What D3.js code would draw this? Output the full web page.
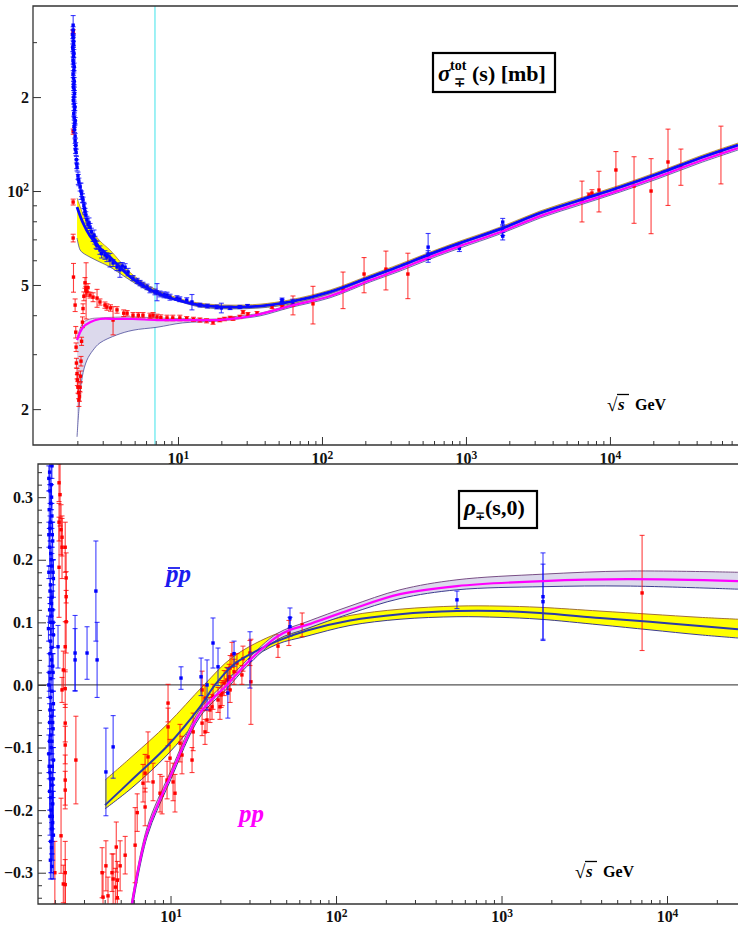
<!DOCTYPE html>
<html>
<head>
<meta charset="utf-8">
<script src="https://cdnjs.cloudflare.com/ajax/libs/d3/7.8.5/d3.min.js"></script>
<style>
  body { margin: 0; background: #fff; }
  svg { display: block; }
  svg text { font-family: "Liberation Serif", "Times New Roman", Times, "DejaVu Serif", serif !important; font-weight: bold; }
</style>
</head>
<body>
<svg id="chart" width="738" height="929"></svg>
<script>
// ---------- top panel: total cross section [mb] vs sqrt(s) [GeV] ----------
const topXMajor = [10, 100, 1000, 10000];
const topXLabels = ["10^1", "10^2", "10^3", "10^4"];
const topYMajor = [20, 50, 100, 200];
const topYLabels = ["2", "5", "10^2", "2"];
const topYMinor = [30, 40, 60, 70, 80, 90, 300];
const cyanSqrtS = 6.92;

// pbar-p fit (blue) with yellow band
const sigPbarCenter = [[1.99,88.9],[2.19,79.0],[2.45,71.8],[2.87,65.7],[3.37,61.4],[4.87,52.2],[6.92,47.5],[10,44.7],[14.2,43.1],[23,42.5],[37.1,42.8],[60,44.1],[114,47.5],[216,53.0],[349,57.5],[562,62.8],[906,68.1],[1722,75.5],[3270,85.0],[6200,93.6],[11800,103],[22300,114.2],[42200,127.6],[77500,140.4]];
const sigPbarUpper = [[1.99,95.0],[2.19,84.4],[2.45,76.1],[2.87,69.2],[3.37,64.7],[4.87,53.8],[6.92,48.5],[10,45.4],[14.2,43.7],[23,43.1],[37.1,43.4],[60,44.8],[114,48.2],[216,53.8],[349,58.4],[562,63.7],[906,69.1],[1722,76.6],[3270,86.3],[6200,95.0],[11800,104.5],[22300,115.9],[42200,129.5],[77500,142.5]];
const sigPbarLower = [[1.99,70.7],[2.09,64.7],[2.19,63.3],[2.45,61.4],[2.87,59.2],[3.37,57.1],[4.87,51.1],[6.92,46.8],[10,44.4],[14.2,42.5],[23,41.9],[37.1,42.2],[60,43.4],[114,46.8],[216,52.2],[349,56.7],[562,61.9],[906,67.1],[1722,74.4],[3270,83.7],[6200,92.2],[11800,101.5],[22300,112.5],[42200,125.7],[77500,138.3]];

// pp fit (magenta) with lavender band
const sigPpCenter = [[1.99,33.3],[2.19,36.6],[2.45,38.0],[2.87,38.9],[3.77,38.9],[4.87,38.9],[7.15,38.6],[10.8,38.6],[18.6,38.6],[26.9,39.2],[37.1,40.3],[60,42.8],[114,46.1],[216,51.8],[349,56.2],[562,61.4],[906,66.6],[1722,73.8],[3270,83.1],[6200,91.5],[11800,100.7],[22300,111.7],[42200,124.8],[77500,137.3]];
const sigPpUpper = [[1.99,33.8],[2.19,37.8],[2.45,38.9],[2.87,39.2],[4.87,39.5],[7.15,39.2],[10.8,39.0],[18.6,38.9],[26.9,39.8],[37.1,40.6],[60,43.2],[114,46.8],[216,52.6],[349,57.1],[562,62.3],[906,67.6],[1722,74.9],[3270,84.4],[6200,92.9],[11800,102.2],[22300,113.4],[42200,126.7],[77500,139.4]];
const sigPpLower = [[1.99,16.3],[2.05,19.9],[2.16,25.3],[2.33,28.7],[2.57,30.9],[2.87,32.6],[3.77,34.6],[4.87,35.8],[7.15,36.6],[10.8,37.8],[18.6,38.3],[26.9,39.0],[37.1,39.8],[60,42.3],[114,45.5],[216,51.1],[349,55.4],[562,60.5],[906,65.6],[1722,72.8],[3270,81.9],[6200,90.2],[11800,99.3],[22300,110.1],[42200,123.0],[77500,135.3]];

// measured points [sqrt(s), sigma, error]
const sigPbarPts = [[1.87,340,25],[1.87,328,8],[1.86,318,10],[1.87,310,7],[1.88,302,9],[1.88,295,6],[1.86,288,8],[1.87,283,6],[1.89,276,8],[1.88,270,5],[1.87,262,7],[1.88,256,5],[1.90,250,7],[1.89,244,5],[1.87,237,6],[1.88,230,5],[1.90,225,6],[1.89,220,4],[1.88,215,5],[1.90,211,4],[1.91,205,5],[1.89,200,4],[1.88,195,5],[1.90,190,4],[1.92,186,5],[1.91,182,4],[1.89,177,4],[1.90,172,3],[1.93,168,4],[1.92,165,3],[1.90,161,4],[1.91,157,3],[1.93,150,3],[1.93,145,3],[1.95,140,3],[1.94,136,4],[1.96,133,3],[1.97,126,3],[1.98,122,4],[1.99,119,3],[2.02,112,3],[2.03,109,4],[2.05,107,3],[2.09,103,3],[2.12,100,6],[2.14,98,2],[2.17,95,3],[2.19,93.6,2],[2.22,90,2],[2.24,88,3],[2.26,86,2],[2.29,83.8,2],[2.33,81,2],[2.37,78,2],[2.41,79,3],[2.45,76.7,2],[2.50,74,2],[2.57,71,2],[2.61,72,3],[2.65,69.6,2],[2.70,67.5,2],[2.74,67,2],[2.87,64.7,2],[2.95,63,2],[3.11,62.4,2],[3.21,61.4,2],[3.37,60.1,3],[3.54,58.8,1.5],[3.77,57.1,1.5],[3.95,55.9,3],[4.10,57.5,1.5],[4.29,57.0,1.5],[4.50,55.0,1.5],[4.87,52.6,1],[5.20,51.5,1],[5.45,50.7,1],[5.71,50.0,1],[6.09,49.3,1],[6.39,48.2,1],[6.92,47.5,1],[7.15,47.5,3],[7.50,46.8,1],[8.0,46.5,1],[8.39,46.4,1],[8.80,45.7,1],[9.84,45.4,0.8],[10.3,45.0,0.8],[11.5,44.7,0.8],[12.5,44.1,2.5],[14.2,43.1,0.6],[16.0,42.8,0.6],[18.6,42.5,0.6],[20.0,42.2,1.5],[23.0,42.2,0.5],[26.9,42.5,0.5],[30.4,42.8,0.5],[52.8,44.1,0.8],[52.8,44.8,0.6],[62.7,44.2,0.8],[546,66.1,7],[546,62.4,2],[546,61.9,1.5],[900,65.5,1.5],[1800,79.5,2.2],[1800,75.0,3],[1800,71.7,2]];
const sigPpPts = [[1.87,324,5],[1.87,155,3],[1.87,92.2,2],[1.87,70.7,2],[1.88,53.0,5.6],[1.93,43.1,2],[1.95,35.3,1.5],[1.96,31.6,1],[1.97,28.1,1],[1.99,26.0,1],[2.00,24.8,1],[2.02,23.5,1],[2.04,22.6,1],[2.05,21.4,1],[2.07,22.0,0.8],[2.09,23.5,0.8],[2.10,25.5,1],[2.12,28.5,1],[2.14,33.0,1],[2.17,38.0,1.5],[2.19,42.0,1.5],[2.22,46.0,1.5],[2.26,50.8,2],[2.29,48.0,1.5],[2.30,48.9,10],[2.33,47.5,1.5],[2.37,49.0,1.5],[2.45,46.4,1],[2.57,45.7,1.5],[2.74,45.4,3],[2.87,44.1,1],[3.11,43.1,1],[3.21,42.5,1],[3.40,42.2,1],[3.54,38.6,4],[3.77,41.6,1],[4.20,40.6,1],[4.43,40.6,0.8],[4.87,40.0,0.8],[5.3,40.0,0.8],[5.71,40.0,0.8],[6.39,39.8,0.8],[6.71,40.0,0.8],[7.15,39.5,0.8],[7.6,39.3,0.8],[8.39,39.2,0.8],[9.2,39.2,0.8],[10.3,39.2,0.8],[11.5,39.0,0.6],[12.8,38.8,0.6],[14.2,38.6,0.6],[15.8,38.4,0.6],[17.5,38.0,0.6],[19.5,38.6,0.5],[21.0,38.9,0.5],[23.0,39.2,0.5],[24.1,39.0,0.5],[26.9,39.5,0.5],[28.3,40.9,0.5],[30.6,40.3,0.5],[35.4,40.6,0.5],[45.0,42.5,0.5],[52.8,42.5,0.5],[62.9,43.1,3],[86.6,43.5,6],[140,48.5,6.5],[196,54.2,7],[278,56.2,8],[395,54.2,9],[6394,93.6,14],[7150,97.1,1.5],[7500,98.5,2.5],[8390,100.7,15],[11000,116.8,17],[14700,103.8,25],[19300,100,27],[25300,123.9,34],[31100,120.3,16],[59000,133.4,28]];

// ---------- bottom panel: rho(s,0) vs sqrt(s) ----------
const botXMajor = [10, 100, 1000, 10000];
const botXLabels = ["10^1", "10^2", "10^3", "10^4"];
const botYMajor = [-0.3, -0.2, -0.1, 0, 0.1, 0.2, 0.3];

const rhoPbarCenter = [[4.02,-0.192],[5.93,-0.150],[9.53,-0.098],[15.07,-0.035],[18.57,0],[23.9,0.032],[30.2,0.049],[44.0,0.070],[66.8,0.087],[121.5,0.103],[243.6,0.113],[538,0.118],[979,0.118],[1708,0.115],[3937,0.107],[7894,0.101],[15830,0.094],[26850,0.089]];
const rhoPbarUpper = [[4.02,-0.152],[5.93,-0.113],[9.53,-0.063],[15.94,0],[23.9,0.045],[44.0,0.082],[66.8,0.094],[121.5,0.111],[243.6,0.121],[538,0.126],[979,0.126],[1708,0.124],[3937,0.118],[7894,0.113],[15830,0.108],[26850,0.105]];
const rhoPbarLower = [[4.02,-0.198],[5.93,-0.163],[9.53,-0.112],[15.07,-0.05],[20.5,0],[30.2,0.04],[44.0,0.065],[66.8,0.078],[121.5,0.095],[243.6,0.105],[538,0.109],[979,0.108],[1708,0.105],[3937,0.096],[7894,0.088],[15830,0.080],[26850,0.075]];

const rhoPpCenter = [[5.77,-0.36],[7.21,-0.236],[9.93,-0.147],[15.07,-0.045],[21.9,0],[29.0,0.035],[36.2,0.059],[44.0,0.077],[52.7,0.088],[66.8,0.096],[121.5,0.12],[243.6,0.145],[538,0.158],[1781,0.166],[5732,0.169],[26850,0.166]];
const rhoPpUpper = [[5.70,-0.36],[7.21,-0.228],[9.93,-0.140],[15.07,-0.039],[21.9,0.006],[29.0,0.040],[44.0,0.082],[66.8,0.101],[121.5,0.126],[243.6,0.152],[538,0.168],[1781,0.177],[5732,0.182],[26850,0.180]];
const rhoPpLower = [[5.85,-0.36],[7.21,-0.243],[9.93,-0.154],[15.07,-0.051],[21.9,-0.006],[29.0,0.030],[44.0,0.072],[66.8,0.090],[121.5,0.114],[243.6,0.138],[538,0.152],[1781,0.157],[5732,0.158],[26850,0.153]];

const rhoPbarPts = [[1.84,0.33,0.02],[1.87,0.31,0.02],[1.89,0.29,0.03],[1.92,0.27,0.02],[1.87,0.25,0.02],[1.94,0.23,0.03],[1.89,0.21,0.02],[1.92,0.19,0.02],[1.84,0.18,0.01],[1.96,0.17,0.03],[1.87,0.15,0.02],[1.92,0.14,0.02],[1.94,0.12,0.03],[1.89,0.10,0.02],[1.83,0.09,0.02],[1.96,0.08,0.02],[1.92,0.06,0.03],[1.87,0.05,0.02],[1.94,0.03,0.02],[1.89,0.01,0.02],[1.84,0.00,0.02],[1.92,-0.01,0.03],[1.96,-0.03,0.02],[1.87,-0.04,0.02],[1.94,-0.06,0.02],[1.89,-0.08,0.03],[1.92,-0.09,0.02],[1.84,-0.11,0.03],[1.96,-0.12,0.02],[1.87,-0.14,0.03],[1.92,-0.16,0.02],[1.89,-0.18,0.03],[1.94,-0.19,0.04],[1.87,-0.21,0.03],[1.92,-0.23,0.04],[1.89,-0.25,0.05],[1.94,-0.22,0.06],[1.96,-0.24,0.07],[1.92,0.35,0.02],[1.90,0.32,0.03],[1.85,0.02,0.03],[1.86,-0.06,0.03],[1.91,-0.26,0.04],[1.92,-0.29,0.02],
[1.86,0.34,0.02],[1.91,0.30,0.02],[1.85,0.28,0.03],[1.88,0.26,0.02],[1.93,0.24,0.02],[1.86,0.22,0.03],[1.90,0.20,0.02],[1.95,0.18,0.02],[1.88,0.16,0.03],[1.91,0.13,0.02],[1.86,0.12,0.02],[1.90,0.11,0.03],[1.95,0.10,0.02],[1.88,0.07,0.02],[1.91,0.04,0.02],[1.95,0.02,0.03],[1.88,-0.02,0.02],[1.91,-0.05,0.02],[1.95,-0.07,0.03],[1.86,-0.09,0.02],[1.90,-0.10,0.02],[1.93,-0.13,0.03],[1.88,-0.15,0.02],[1.95,-0.15,0.03],[1.86,-0.17,0.03],[1.90,-0.20,0.03],[1.93,-0.21,0.04],[1.88,-0.28,0.03],[1.85,-0.13,0.02],[1.84,0.24,0.02],
[2.09,0.061,0.034],[2.65,0.051,0.06],[2.65,0.040,0.05],[3.13,0.051,0.042],[3.54,0.150,0.08],[3.60,0.040,0.06],[4.07,-0.139,0.07],[4.50,-0.099,0.05],[11.57,0.011,0.018],[15.29,0.013,0.03],[16.62,0.0,0.04],[18.06,0.067,0.04],[19.36,0.029,0.03],[22.2,-0.013,0.04],[24.2,0.050,0.02],[30.2,0.040,0.045],[52.7,0.107,0.016],[52.7,0.093,0.015],[538,0.136,0.014],[1781,0.141,0.07],[1781,0.133,0.06]];
const rhoPpPts = [[2.12,0.323,0.03],[2.15,0.304,0.05],[2.12,0.260,0.03],[2.18,0.248,0.04],[2.21,0.236,0.03],[2.21,0.220,0.05],[2.31,0.220,0.04],[2.12,0.188,0.08],[2.34,0.171,0.04],[2.34,0.141,0.04],[2.34,0.101,0.05],[2.31,0.061,0.04],[2.25,0.024,0.03],[2.31,-0.006,0.03],[2.21,-0.008,0.02],[2.31,-0.061,0.03],[2.31,-0.096,0.03],[2.31,-0.152,0.04],[2.31,-0.168,0.03],[2.31,-0.300,0.05],[2.31,-0.319,0.04],[2.18,-0.241,0.06],[2.25,-0.318,0.03],[2.00,-0.300,0.05],[2.68,-0.120,0.07],
[3.86,-0.300,0.04],[3.91,-0.339,0.04],[4.07,-0.289,0.04],[4.19,-0.337,0.03],[4.43,-0.300,0.03],[4.64,-0.323,0.03],[4.77,-0.312,0.03],[4.77,-0.340,0.03],[5.32,-0.272,0.03],[4.96,-0.289,0.04],[4.70,-0.259,0.04],[4.50,-0.310,0.04],[6.11,-0.256,0.06],[6.29,-0.204,0.03],[7.02,-0.195,0.03],[6.82,-0.157,0.03],[7.02,-0.141,0.03],[7.31,-0.115,0.04],[7.84,-0.155,0.03],[8.64,-0.173,0.03],[8.89,-0.176,0.03],[9.53,-0.152,0.03],[9.66,-0.067,0.03],[9.93,-0.117,0.03],[10.36,-0.155,0.03],[10.64,-0.173,0.03],[11.41,-0.093,0.03],[11.73,-0.112,0.03],[13.49,-0.120,0.02],[13.70,-0.075,0.03],[15.51,-0.061,0.02],[16.16,-0.075,0.02],[16.62,-0.056,0.02],[17.31,-0.040,0.02],[18.06,-0.019,0.02],[19.9,-0.035,0.02],[20.5,-0.013,0.02],[22.9,-0.008,0.02],
[9.66,-0.029,0.03],[15.51,-0.008,0.03],[16.16,-0.021,0.02],[17.81,-0.035,0.02],[19.36,-0.024,0.02],[20.2,-0.016,0.02],[21.1,0.003,0.02],[21.9,0.008,0.02],[22.6,0.013,0.02],[22.9,0.027,0.02],[23.5,0.048,0.02],[24.2,0.021,0.02],[25.2,0.035,0.015],[27.0,0.016,0.015],[27.4,0.042,0.02],[30.2,0.051,0.02],[30.6,0.005,0.068],[44.6,0.062,0.018],[51.9,0.083,0.02],[62.4,0.096,0.019],[7070,0.147,0.092]];

// ---------- drawing ----------
const svg = d3.select("#chart");

const xTop = d3.scaleLog().domain([0.984, 77500]).range([33, 738]);
const yTop = d3.scaleLog().domain([15.35, 391.7]).range([445, 6]);
const xBot = d3.scaleLog().domain([1.582, 26850]).range([38, 738]);
const yBot = d3.scaleLinear().domain([-0.35, 0.353]).range([904, 464]);

const defs = svg.append("defs");
defs.append("clipPath").attr("id", "clipTop").append("rect")
  .attr("x", 33).attr("y", 6).attr("width", 705).attr("height", 439);
defs.append("clipPath").attr("id", "clipBot").append("rect")
  .attr("x", 38).attr("y", 464).attr("width", 700).attr("height", 440);

function lineFor(x, y) {
  return d3.line().x(d => x(d[0])).y(d => y(d[1])).curve(d3.curveCatmullRom.alpha(0.5));
}

function drawBand(g, up, lo, x, y, fill, upStroke, loStroke, w) {
  const ln = lineFor(x, y);
  const dU = ln(up);
  const dL = ln(lo.slice().reverse());
  g.append("path").attr("d", dU + "L" + dL.slice(1) + "Z").attr("fill", fill).attr("stroke", "none");
  g.append("path").attr("d", dU).attr("fill", "none").attr("stroke", upStroke).attr("stroke-width", w);
  g.append("path").attr("d", ln(lo)).attr("fill", "none").attr("stroke", loStroke).attr("stroke-width", w);
}

function drawCurve(g, pts, x, y, color, w) {
  g.append("path").attr("d", lineFor(x, y)(pts)).attr("fill", "none")
    .attr("stroke", color).attr("stroke-width", w);
}

function drawPoints(g, pts, x, y, color) {
  const gp = g.append("g").attr("stroke", color).attr("stroke-opacity", 0.75).attr("stroke-width", 1.1);
  gp.selectAll("line.bar").data(pts).join("line").attr("class", "bar")
    .attr("x1", d => x(d[0])).attr("x2", d => x(d[0]))
    .attr("y1", d => y(d[1] - d[2])).attr("y2", d => y(d[1] + d[2]));
  gp.selectAll("line.capLo").data(pts).join("line").attr("class", "capLo")
    .attr("x1", d => x(d[0]) - 2.5).attr("x2", d => x(d[0]) + 2.5)
    .attr("y1", d => y(d[1] - d[2])).attr("y2", d => y(d[1] - d[2]));
  gp.selectAll("line.capHi").data(pts).join("line").attr("class", "capHi")
    .attr("x1", d => x(d[0]) - 2.5).attr("x2", d => x(d[0]) + 2.5)
    .attr("y1", d => y(d[1] + d[2])).attr("y2", d => y(d[1] + d[2]));
  g.append("g").attr("fill", color).selectAll("rect").data(pts).join("rect")
    .attr("x", d => x(d[0]) - 1.7).attr("y", d => y(d[1]) - 1.7)
    .attr("width", 3.4).attr("height", 3.4);
}

function supLabels(sel) {
  sel.each(function () {
    const t = d3.select(this);
    const s = t.text();
    if (s.includes("^")) {
      const [b, e] = s.split("^");
      t.text(null);
      t.append("tspan").text(b);
      t.append("tspan").attr("dy", "-0.45em").attr("font-size", "0.72em").text(e);
    }
  });
}

function minorsLog(lo, hi) {
  const out = [];
  for (let dec = 1; dec <= 100000; dec *= 10) {
    for (let m = 2; m <= 9; m++) {
      const v = m * dec;
      if (v > lo && v < hi) out.push(v);
    }
  }
  return out;
}

// ===== top panel =====
const gTop = svg.append("g");
const plotTop = gTop.append("g").attr("clip-path", "url(#clipTop)");

plotTop.append("line")
  .attr("x1", xTop(cyanSqrtS)).attr("x2", xTop(cyanSqrtS))
  .attr("y1", 6).attr("y2", 445)
  .attr("stroke", "#5ee8ee").attr("stroke-width", 1.2);

drawBand(plotTop, sigPbarUpper, sigPbarLower, xTop, yTop, "#ffff00", "#b07a3c", "#4a4a99", 0.8);
drawBand(plotTop, sigPpUpper, sigPpLower, xTop, yTop, "#dcd9ec", "#8a5a96", "#4a4a99", 0.8);
drawPoints(plotTop, sigPpPts, xTop, yTop, "#ff0000");
drawPoints(plotTop, sigPbarPts, xTop, yTop, "#0000ff");
drawCurve(plotTop, sigPpCenter, xTop, yTop, "#ff00ff", 2.2);
drawCurve(plotTop, sigPbarCenter, xTop, yTop, "#0a0aff", 2.8);

// axes top
const axTopX = gTop.append("g").attr("transform", "translate(0,445)")
  .call(d3.axisBottom(xTop).tickValues(topXMajor).tickSize(-8).tickSizeOuter(0)
    .tickFormat((d, i) => topXLabels[i]));
axTopX.append("g").call(d3.axisBottom(xTop).tickValues(minorsLog(1, 77500).filter(v => !topXMajor.includes(v)))
  .tickSize(-4).tickSizeOuter(0).tickFormat(""));
const axTopY = gTop.append("g").attr("transform", "translate(33,0)")
  .call(d3.axisLeft(yTop).tickValues(topYMajor).tickSize(-8).tickSizeOuter(0)
    .tickFormat((d, i) => topYLabels[i]).tickPadding(4));
axTopY.append("g").call(d3.axisLeft(yTop).tickValues(topYMinor).tickSize(-4).tickSizeOuter(0).tickFormat(""));

// ===== bottom panel =====
const gBot = svg.append("g");
const plotBot = gBot.append("g").attr("clip-path", "url(#clipBot)");

plotBot.append("line").attr("x1", 38).attr("x2", 738)
  .attr("y1", yBot(0)).attr("y2", yBot(0))
  .attr("stroke", "#555").attr("stroke-width", 1.2);

drawBand(plotBot, rhoPbarUpper, rhoPbarLower, xBot, yBot, "#ffff00", "#a0703c", "#3b3b8f", 1);
drawBand(plotBot, rhoPpUpper, rhoPpLower, xBot, yBot, "#dcd9ec", "#7a4f86", "#3b3b8f", 1);
drawPoints(plotBot, rhoPpPts, xBot, yBot, "#ff0000");
drawPoints(plotBot, rhoPbarPts, xBot, yBot, "#0000ff");
drawCurve(plotBot, rhoPbarCenter, xBot, yBot, "#2b3aa8", 2);
drawCurve(plotBot, rhoPpCenter, xBot, yBot, "#ff00ff", 2.2);

const axBotX = gBot.append("g").attr("transform", "translate(0,904)")
  .call(d3.axisBottom(xBot).tickValues(botXMajor).tickSize(-8).tickSizeOuter(0)
    .tickFormat((d, i) => botXLabels[i]));
axBotX.append("g").call(d3.axisBottom(xBot).tickValues(minorsLog(1.6, 26850).filter(v => !botXMajor.includes(v)))
  .tickSize(-4).tickSizeOuter(0).tickFormat(""));
const axBotY = gBot.append("g").attr("transform", "translate(38,0)")
  .call(d3.axisLeft(yBot).tickValues(botYMajor).tickSize(-8).tickSizeOuter(0)
    .tickFormat(d3.format(".1f")).tickPadding(5));
axBotY.append("g").call(d3.axisLeft(yBot).tickValues(d3.range(-34, 35, 2).filter(v => v % 10 !== 0).map(v => v / 100))
  .tickSize(-4).tickSizeOuter(0).tickFormat(""));

// axis styling
svg.selectAll(".domain").remove();
svg.selectAll(".tick line").attr("stroke", "#333").attr("stroke-width", 1);
svg.selectAll(".tick text").attr("font-size", 16).attr("fill", "#111");
axTopX.selectAll(".tick text").attr("y", 8).attr("dy", "0.71em").call(supLabels);
axBotX.selectAll(".tick text").attr("y", 7).attr("dy", "0.71em").call(supLabels);
axTopY.selectAll(".tick text").call(supLabels);

// frames (open on the right, cut by the page edge)
function frame(x0, y0, y1) {
  svg.append("path").attr("d", `M745,${y0}H${x0}V${y1}H745`)
    .attr("fill", "none").attr("stroke", "#333").attr("stroke-width", 1.3);
}
frame(33, 6, 445);
frame(38, 464, 904);

// ---------- labels ----------
// sigma title box
svg.append("rect").attr("x", 433).attr("y", 53).attr("width", 122).attr("height", 39)
  .attr("fill", "#fff").attr("stroke", "#000").attr("stroke-width", 2.2);
svg.append("text").attr("x", 438).attr("y", 81).attr("font-size", 23)
  .attr("font-style", "italic").attr("font-weight", "normal").text("σ");
svg.append("text").attr("x", 450).attr("y", 70).attr("font-size", 14).text("tot");
svg.append("text").attr("x", 454).attr("y", 87).attr("font-size", 14).text("∓");
svg.append("text").attr("x", 472).attr("y", 81).attr("font-size", 22).text("(s) [mb]");

// rho title box
svg.append("rect").attr("x", 459).attr("y", 491).attr("width", 78).attr("height", 37)
  .attr("fill", "#fff").attr("stroke", "#000").attr("stroke-width", 2.2);
svg.append("text").attr("x", 464).attr("y", 515).attr("font-size", 23)
  .attr("font-style", "italic").attr("font-weight", "normal").text("ρ");
svg.append("text").attr("x", 475).attr("y", 520).attr("font-size", 12).text("∓");
svg.append("text").attr("x", 485).attr("y", 515).attr("font-size", 22).text("(s,0)");

// sqrt(s) GeV labels
function sqrtLabel(x, y) {
  svg.append("text").attr("x", x).attr("y", y + 1).attr("font-size", 19).attr("font-weight", "normal").text("√");
  svg.append("line").attr("x1", x + 10).attr("x2", x + 22).attr("y1", y - 15.5).attr("y2", y - 15.5)
    .attr("stroke", "#000").attr("stroke-width", 1.3);
  svg.append("text").attr("x", x + 11).attr("y", y).attr("font-size", 17)
    .attr("font-style", "italic").attr("font-weight", "normal").text("s");
  svg.append("text").attr("x", x + 28).attr("y", y).attr("font-size", 16).text("GeV");
}
sqrtLabel(607, 410);
sqrtLabel(575, 877);

// particle labels
svg.append("text").attr("x", 166).attr("y", 582).attr("font-size", 25)
  .attr("font-style", "italic").attr("fill", "#1a1aee").text("pp");
svg.append("line").attr("x1", 168).attr("x2", 180).attr("y1", 568).attr("y2", 568)
  .attr("stroke", "#1a1aee").attr("stroke-width", 1.8);
svg.append("text").attr("x", 239).attr("y", 822).attr("font-size", 25)
  .attr("font-style", "italic").attr("fill", "#ff00ff").text("pp");
</script>
</body>
</html>
